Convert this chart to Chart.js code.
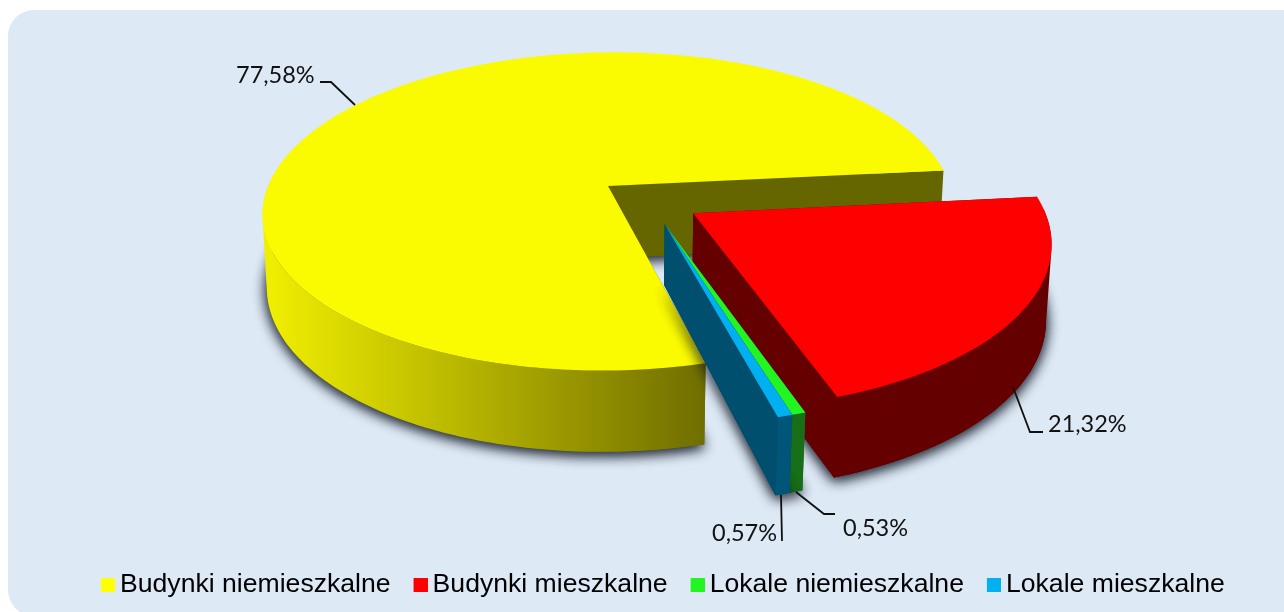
<!DOCTYPE html>
<html><head><meta charset="utf-8">
<style>html,body{margin:0;padding:0;background:#fff}#w{width:1284px;height:612px;position:relative}</style>
<script src="https://cdn.jsdelivr.net/npm/chart.js@4"></script>
</head><body><div id="w"><canvas id="c" width="1284" height="612"></canvas></div>
<script>
const categories = ['Budynki niemieszkalne','Budynki mieszkalne','Lokale niemieszkalne','Lokale mieszkalne'];
const shareValues = [77.58,21.32,0.53,0.57];
const shareLabels = ['77,58%','21,32%','0,53%','0,57%'];
const topColors = ['#fafa00','#ff0000','#22f522','#00b0f0'];
const legendColors = ['#ffff00','#ff0000','#22f522','#00b0f0'];
const cutColors = ['#666600','#640000','#156b15','#004f6e'];
const rimColors = [null,'#640000','#176f17','#005578'];
const explode = [[0,0],[0.243,0.175],[0.16,0.24],[0.16,0.24]];
const sideDepth = [[73,-1.5],[74.9,-4.8],[57.7,7.5],[57.7,7.5]];
const view = {cx:608,cy:186,ax:341,ay:155,k:0.16,m:0.012,tilt:3};
const labelBoxes = [
 {x:236,y:75,line:[[320,82],[331,82],[355,105]]},
 {x:1048,y:424,line:[[1013,387],[1030,432],[1043,432]]},
 {x:843,y:528,line:[[796,492],[824,514],[835,514]]},
 {x:712,y:533,line:[[781,495],[782,541]]}
];
function P(u,v,z,i){const w=1-view.k*v+z*view.m,[H,s]=sideDepth[i];return [view.cx+view.ax*u/w,view.cy+(view.ay*v-view.tilt*u+z*(H+s*v))/w];}
function poly(ctx,pts){ctx.beginPath();pts.forEach((p,i)=>i?ctx.lineTo(p[0],p[1]):ctx.moveTo(p[0],p[1]));ctx.closePath();}
function subPath(ctx,pts){let area=0;pts.forEach((p,i)=>{const q=pts[(i+1)%pts.length];area+=p[0]*q[1]-q[0]*p[1];});const o=area<0?pts.slice().reverse():pts;o.forEach((p,i)=>i?ctx.lineTo(p[0],p[1]):ctx.moveTo(p[0],p[1]));ctx.closePath();}
function swatch(col){const c=document.createElement('canvas');c.width=18;c.height=14;const g=c.getContext('2d');g.fillStyle=col;g.fillRect(4,0,14,14);return c;}
const pie3d={id:'pie3d',
 beforeDraw(chart){const ctx=chart.ctx;ctx.save();ctx.fillStyle='#fff';ctx.fillRect(0,0,1284,612);ctx.fillStyle='#dde9f5';ctx.beginPath();ctx.roundRect(8,10,1300,606,26);ctx.fill();ctx.restore();},
 beforeDatasetsDraw(chart){
  const ctx=chart.ctx,arcs=chart.getDatasetMeta(0).data;
  arcs.forEach((arc,i)=>{
   const a0=arc.startAngle,a1=arc.endAngle,n=Math.max(2,Math.ceil((a1-a0)*40)),[ex,ey]=explode[i];
   const ring=z=>{const r=[];for(let j=0;j<=n;j++){const a=a0+(a1-a0)*j/n;r.push(P(ex+Math.cos(a),ey+Math.sin(a),z,i));}return r;};
   const t=ring(0),b=ring(1),at=P(ex,ey,0,i),ab=P(ex,ey,1,i);
   ctx.save();
   ctx.shadowColor='rgba(20,25,40,0.75)';ctx.shadowBlur=13;ctx.shadowOffsetY=3;ctx.fillStyle=cutColors[i];
   poly(ctx,[ab,...b]);ctx.fill();ctx.fill();
   ctx.restore();ctx.save();
   ctx.fillStyle=cutColors[i];
   poly(ctx,[at,t[0],b[0],ab]);ctx.fill();
   let rim=rimColors[i];
   if(!rim){rim=ctx.createLinearGradient(262,0,705,0);rim.addColorStop(0,'#f2f000');rim.addColorStop(1,'#706e00');}
   ctx.fillStyle=rim;
   ctx.beginPath();
   for(let j=0;j<n;j++){
    if(Math.sin(a0+(a1-a0)*(j+0.5)/n)<0)continue;
    subPath(ctx,[t[j],t[j+1],b[j+1],b[j]]);
   }
   ctx.fill();
   ctx.fillStyle=cutColors[i];
   poly(ctx,[at,t[n],b[n],ab]);ctx.fill();
   ctx.fillStyle=topColors[i];poly(ctx,[at,...t]);ctx.fill();
   ctx.restore();
  });
  return false;
 },
 afterDraw(chart){
  const ctx=chart.ctx;ctx.save();
  ctx.strokeStyle='#111';ctx.lineWidth=1.8;ctx.fillStyle='#111';ctx.font='23.5px Lato';ctx.textBaseline='middle';ctx.textAlign='left';
  labelBoxes.forEach((l,i)=>{ctx.beginPath();l.line.forEach((p,j)=>j?ctx.lineTo(p[0],p[1]):ctx.moveTo(p[0],p[1]));ctx.stroke();ctx.fillText(shareLabels[i],l.x,l.y);});
  ctx.restore();
 }
};
new Chart(document.getElementById('c'),{
 type:'pie',
 data:{labels:categories,datasets:[{data:shareValues,backgroundColor:topColors,borderWidth:0}]},
 options:{responsive:false,animation:false,rotation:166,
  layout:{padding:{left:46,bottom:4}},
  plugins:{tooltip:{enabled:false},
   legend:{position:'bottom',labels:{
    color:'#111',font:{family:'"Liberation Sans"',size:26.6},padding:27.25,usePointStyle:true,boxWidth:1.5,boxHeight:14,
    generateLabels:(ch)=>ch.data.labels.map((t,i)=>({text:t,pointStyle:swatch(legendColors[i]),fillStyle:legendColors[i],strokeStyle:legendColors[i],lineWidth:0,hidden:false,index:i}))
   }}}},
 plugins:[pie3d]
});
</script></body></html>
